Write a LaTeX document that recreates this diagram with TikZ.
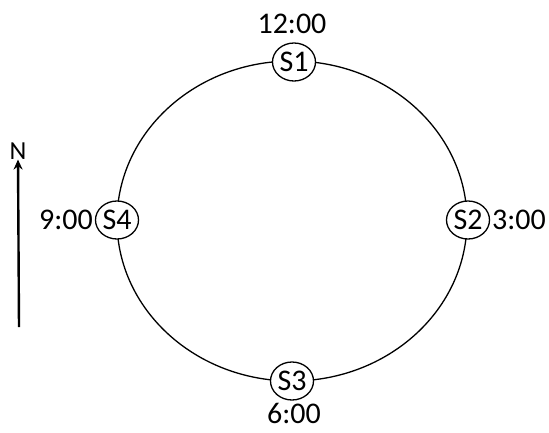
\documentclass[tikz,border=0pt]{standalone}
\usepackage{fontspec}
\setmainfont{Carlito}
\usetikzlibrary{shapes.geometric,arrows.meta}
\begin{document}
\begin{tikzpicture}[x=1pt,y=-1pt,
  station/.style={ellipse,draw,line width=1.3pt,fill=white,minimum width=43pt,minimum height=38pt,inner sep=0pt,font=\fontsize{30}{30}\selectfont},
  lab/.style={font=\fontsize{30}{30}\selectfont,inner sep=0pt}]
\useasboundingbox (0,0) rectangle (549,432);
\draw[line width=1.3pt] (292,221) ellipse [x radius=175pt, y radius=160pt];
\node[station] (s1) at (294,62) {S1};
\node[station] (s2) at (468,220) {S2};
\node[station] (s3) at (292,381) {S3};
\node[station] (s4) at (117,220) {S4};
\node[lab] (t12) at (292,24) {12:00};
\node[lab] (t3) at (519,220) {3:00};
\node[lab] (t6) at (294,413) {6:00};
\node[lab] (t9) at (66,220) {9:00};
\node[lab,font=\fontsize{26}{26}\selectfont] (n) at (18,151) {N};
\coordinate (a) at (19,327);
\draw[line width=2.4pt,-{Stealth[length=10pt,width=9pt]}] (a) -- (n.south);
\end{tikzpicture}
\end{document}
